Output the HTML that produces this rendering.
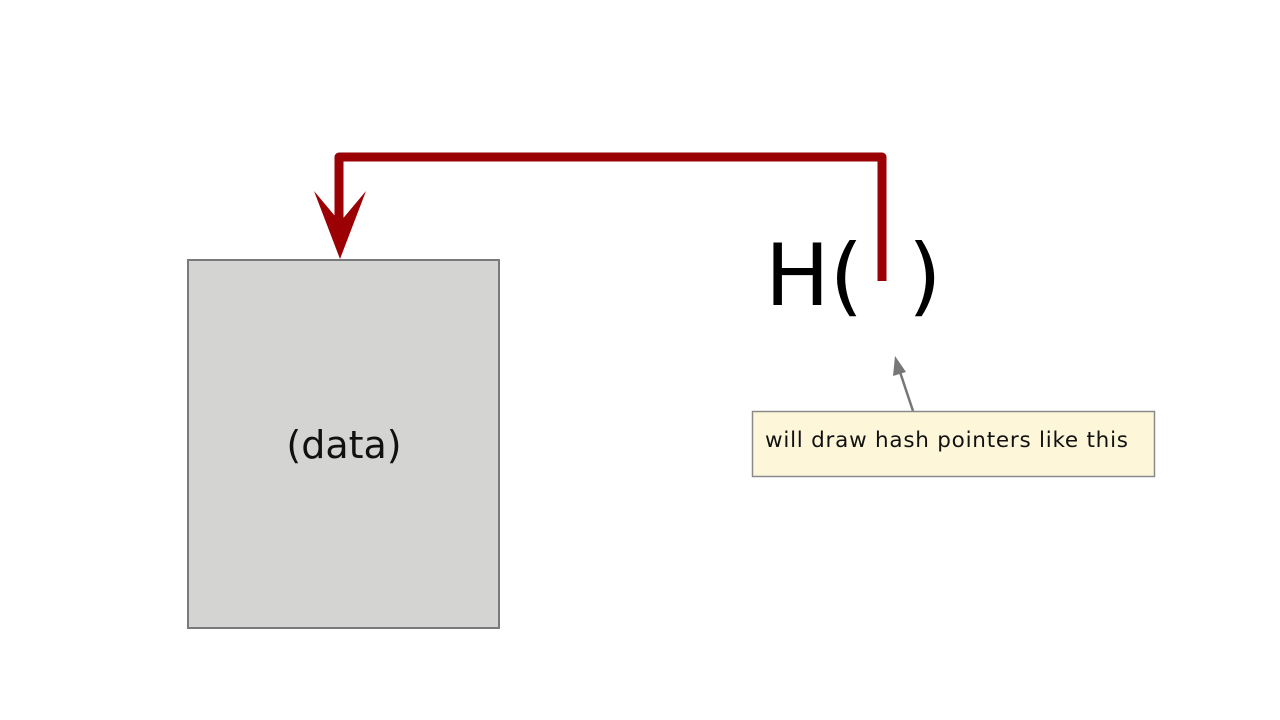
<!DOCTYPE html>
<html><head><style>
html,body{margin:0;padding:0;background:#fff;width:1280px;height:720px;overflow:hidden;font-family:"DejaVu Sans","Liberation Sans",sans-serif}
</style></head><body>
<svg width="1280" height="720" xmlns="http://www.w3.org/2000/svg">
<rect x="188" y="260" width="311" height="368" fill="#d4d5d3" stroke="#7a7a7a" stroke-width="2"/>
<text x="344" y="458" font-size="38" text-anchor="middle" fill="#111" font-family="DejaVu Sans, sans-serif">(data)</text>
<path d="M882 281 V157 H339 V228" fill="none" stroke="#9b0005" stroke-width="9" stroke-linejoin="round"/>
<polygon points="340,259 314,191 340,222 366,191" fill="#9b0005"/>
<text x="765" y="305" font-size="86" fill="#000" font-family="DejaVu Sans, sans-serif">H(</text>
<text x="908" y="305" font-size="86" fill="#000" font-family="DejaVu Sans, sans-serif">)</text>
<line x1="913" y1="411" x2="900" y2="372" stroke="#777" stroke-width="2.5"/>
<polygon points="895,356 893,376 906,372" fill="#777"/>
<rect x="752.5" y="411.5" width="402" height="65" fill="#fdf6d9" stroke="#8a8a8a" stroke-width="1.5"/>
<text x="765" y="447" font-size="21.5" fill="#111" font-family="DejaVu Sans, sans-serif" textLength="363" lengthAdjust="spacing">will draw hash pointers like this</text>
</svg>
</body></html>
